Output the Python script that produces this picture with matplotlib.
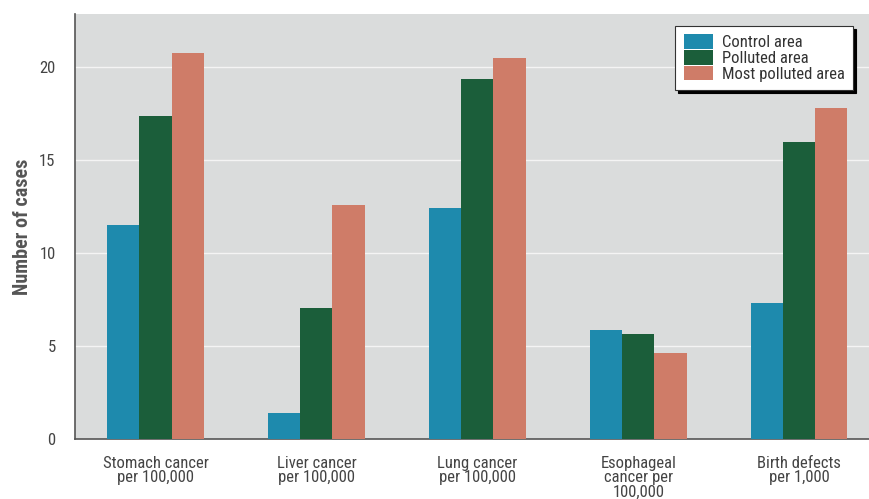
import matplotlib
matplotlib.use("Agg")
import matplotlib.pyplot as plt
import numpy as np

categories = ["Stomach cancer\nper 100,000", "Liver cancer\nper 100,000",
              "Lung cancer\nper 100,000", "Esophageal\ncancer per\n100,000",
              "Birth defects\nper 1,000"]
series_names = ["Control area", "Polluted area", "Most polluted area"]
control = [11.5, 1.4, 12.4, 5.85, 7.3]
polluted = [17.35, 7.05, 19.35, 5.65, 15.95]
most_polluted = [20.75, 12.6, 20.5, 4.6, 17.8]
yticks = [0, 5, 10, 15, 20]

colors = ["#1e8aad", "#1b5e3a", "#cf7c68"]

plt.rcParams['font.family'] = ['Roboto Condensed', 'Roboto', 'DejaVu Sans']

fig = plt.figure(figsize=(8.70, 4.99), dpi=100)
fig.patch.set_facecolor("white")
ax = fig.add_axes([75 / 870, 60 / 499, 795 / 870, 425 / 499])
ax.set_facecolor("#dadcdc")

x = np.arange(len(categories))
w = 0.2
for i, (vals, name) in enumerate(zip([control, polluted, most_polluted], series_names)):
    ax.bar(x + (i - 1) * w, vals, width=w, color=colors[i], label=name, zorder=3)

ax.set_xlim(-0.5, 4.44)
ax.set_ylim(0, 22.85)
ax.set_yticks(yticks)
ax.yaxis.grid(True, color="#f4f4f4", linewidth=1.0, zorder=0)
ax.set_xticks(x)
ax.set_xticklabels(categories, fontsize=12, color="#444444", linespacing=0.95)
ax.tick_params(axis="both", length=0, labelcolor="#444444")
ax.tick_params(axis="x", pad=12)
ax.tick_params(axis="y", labelsize=12, pad=14)
ax.set_ylabel("Number of cases", fontsize=14.5, fontweight="bold", color="#555555", labelpad=5)

for s in ["top", "right"]:
    ax.spines[s].set_visible(False)
for s in ["left", "bottom"]:
    ax.spines[s].set_color("#555555")
    ax.spines[s].set_linewidth(1.2)

leg = ax.legend(loc="upper right", bbox_to_anchor=(0.979, 0.972), fontsize=12,
                frameon=True, fancybox=False, shadow={'color': 'black', 'alpha': 1},
                edgecolor="#333333", handlelength=1.75, handleheight=0.95,
                handletextpad=0.55, labelspacing=0.0, borderpad=0.5,
                borderaxespad=0)
leg.get_frame().set_linewidth(0.8)
for t in leg.get_texts():
    t.set_color("#333333")

fig.savefig("out.png", dpi=100)
